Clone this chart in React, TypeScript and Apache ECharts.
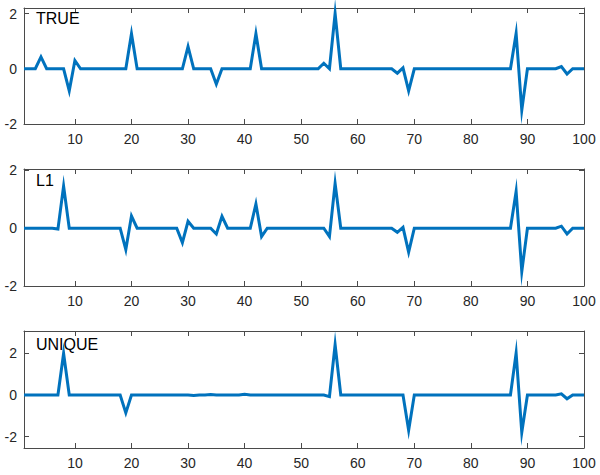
import React, { useEffect, useRef } from "react";
import * as echarts from "echarts";

const xTicks = [10, 20, 30, 40, 50, 60, 70, 80, 90, 100];
const yTicks = [-2, 0, 2];
const panelLabels = ["TRUE", "L1", "UNIQUE"];
const yLimits = [
  [-2, 2.2],
  [-2, 2.05],
  [-2.55, 3.08],
];

// index 1..100
const trueValues = [
  0, 0, 0, 0.43, 0, 0, 0, 0, -0.8, 0.3,
  0, 0, 0, 0, 0, 0, 0, 0, 0, 1.27,
  0, 0, 0, 0, 0, 0, 0, 0, 0, 0.8,
  0, 0, 0, 0, -0.56, 0, 0, 0, 0, 0,
  0, 1.27, 0, 0, 0, 0, 0, 0, 0, 0,
  0, 0, 0, 0.2, 0, 2.0, 0, 0, 0, 0,
  0, 0, 0, 0, 0, 0, -0.16, 0.03, -0.8, 0,
  0, 0, 0, 0, 0, 0, 0, 0, 0, 0,
  0, 0, 0, 0, 0, 0, 0, 1.28, -1.5, 0,
  0, 0, 0, 0, 0, 0.08, -0.19, 0, 0, 0,
];

const l1Values = [
  0, 0, 0, 0, 0, 0, -0.03, 1.46, 0, 0,
  0, 0, 0, 0, 0, 0, 0, 0, -0.74, 0.42,
  0, 0, 0, 0, 0, 0, 0, 0, -0.5, 0.24,
  0, 0, 0, 0, -0.2, 0.41, 0, 0, 0, 0,
  0, 0.84, -0.29, 0, 0, 0, 0, 0, 0, 0,
  0, 0, 0, 0, -0.29, 1.55, 0, 0, 0, 0,
  0, 0, 0, 0, 0, 0, -0.14, 0.03, -0.83, 0,
  0, 0, 0, 0, 0, 0, 0, 0, 0, 0,
  0, 0, 0, 0, 0, 0, 0, 1.27, -1.5, 0,
  0, 0, 0, 0, 0, 0.07, -0.2, 0, 0, 0,
];

const uniqueValues = [
  0, 0, 0, 0, 0, 0, 0, 2.0, 0, 0,
  0, 0, 0, 0, 0, 0, 0, 0, -0.86, 0,
  0, 0, 0, 0, 0, 0, 0, 0, 0, 0,
  -0.02, 0, 0, 0.02, 0, 0, 0, 0, 0, 0.04,
  0, 0, 0, 0, 0, 0, 0, 0, 0, 0,
  0, 0, 0, 0, -0.08, 2.42, 0, 0, 0, 0,
  0, 0, 0, 0, 0, 0, 0, 0, -1.7, 0,
  0, 0, 0, 0, 0, 0, 0, 0, 0, 0,
  0, 0, 0, 0, 0, 0, 0, 2.02, -1.8, 0,
  0, 0, 0, 0, 0, 0.06, -0.18, 0, 0, 0,
];

const allSeries = [trueValues, l1Values, uniqueValues];

const FONT = "'Liberation Sans', Helvetica, Arial, sans-serif";
const AXIS_COLOR = "#4a4a4a";
const TEXT_COLOR = "#262626";
const LINE_COLOR = "#0072BD";

export default function App() {
  const ref = useRef<HTMLDivElement>(null);

  useEffect(() => {
    if (!ref.current) return;
    const chart = echarts.init(ref.current, null, { renderer: "svg" });

    const grids = [
      { left: 24, top: 8, width: 560, height: 116 },
      { left: 24, top: 169, width: 560, height: 117 },
      { left: 24, top: 331, width: 560, height: 117 },
    ];

    const axisLine = { show: true, onZero: false, lineStyle: { color: AXIS_COLOR, width: 1 } };
    const tick = (vals: number[]) => ({
      show: true,
      inside: true,
      length: 5,
      customValues: vals,
      lineStyle: { color: AXIS_COLOR },
    });
    const xAxes: any[] = [];
    const yAxes: any[] = [];
    grids.forEach((_, i) => {
      xAxes.push({
        type: "value",
        gridIndex: i,
        position: "bottom",
        min: 1,
        max: 100,
        axisLine,
        splitLine: { show: false },
        axisTick: tick(xTicks),
        axisLabel: {
          show: true,
          customValues: xTicks,
          margin: 8,
          fontSize: 14,
          fontFamily: FONT,
          color: TEXT_COLOR,
          showMinLabel: true,
          showMaxLabel: true,
        },
      });
      xAxes.push({
        type: "value",
        gridIndex: i,
        position: "top",
        min: 1,
        max: 100,
        axisLine,
        splitLine: { show: false },
        axisTick: tick(xTicks),
        axisLabel: { show: false },
      });
      yAxes.push({
        type: "value",
        gridIndex: i,
        position: "left",
        min: yLimits[i][0],
        max: yLimits[i][1],
        axisLine,
        splitLine: { show: false },
        axisTick: tick(yTicks),
        axisLabel: {
          show: true,
          customValues: yTicks,
          margin: 7,
          fontSize: 14,
          fontFamily: FONT,
          color: TEXT_COLOR,
          formatter: (v: number) => String(v),
        },
      });
      yAxes.push({
        type: "value",
        gridIndex: i,
        position: "right",
        min: yLimits[i][0],
        max: yLimits[i][1],
        axisLine,
        splitLine: { show: false },
        axisTick: tick(yTicks),
        axisLabel: { show: false },
      });
    });

    const series = allSeries.map((vals, i) => ({
      type: "line",
      xAxisIndex: i * 2,
      yAxisIndex: i * 2,
      data: vals.map((v, k) => [k + 1, v]),
      showSymbol: false,
      symbol: "none",
      clip: false,
      lineStyle: { color: LINE_COLOR, width: 3, join: "miter", miterLimit: 12 },
      z: 1,
    }));

    const labelY = [19, 181, 345];
    const graphic = panelLabels.map((t, i) => ({
      type: "text",
      left: 36,
      top: labelY[i] - 9,
      z: 10,
      style: {
        text: t,
        fontSize: 16,
        fontFamily: FONT,
        fill: "#000",
      },
    }));

    chart.setOption({
      animation: false,
      backgroundColor: "#fff",
      grid: grids.map((g) => ({ ...g, show: false })),
      xAxis: xAxes,
      yAxis: yAxes,
      series,
      graphic,
    });

    return () => chart.dispose();
  }, []);

  return (
    <div
      ref={ref}
      style={{ position: "fixed", left: 0, top: 0, width: 600, height: 475, background: "#fff" }}
    />
  );
}
